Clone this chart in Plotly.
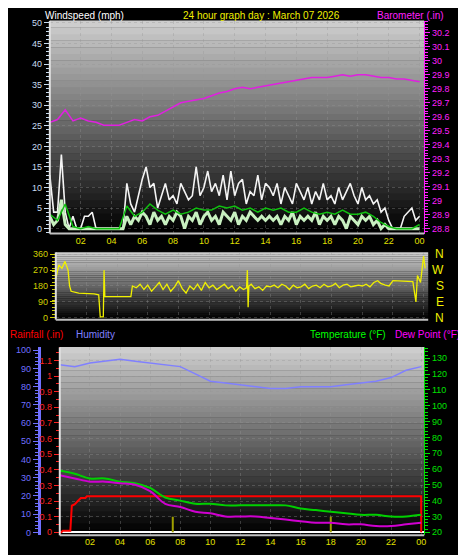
import numpy as np
import plotly.graph_objects as go

W, H = 466, 555

# ---- wind (mph) ----
gust_t = np.arange(0, 24.01, 0.25)
gust = [13, 4, 4, 18, 4, 0, 3, 0, 0, 3, 3, 4, 0, 0, 0, 0, 0, 0, 0, 0,
        11, 6, 4, 8, 12, 15, 10, 11, 5, 8, 11, 7, 8, 6, 11, 9, 7, 8, 15, 8,
        10, 14, 9, 11, 8, 13, 7, 14, 8, 11, 12, 6, 9, 8, 13, 7, 11, 10, 8, 11,
        6, 10, 8, 6, 11, 9, 7, 10, 6, 9, 7, 11, 7, 8, 6, 10, 7, 9, 11, 8,
        6, 10, 7, 8, 6, 7, 4, 5, 2, 0, 0, 0, 3, 4, 5, 2, 3]
speed_t = np.arange(0, 24.01, 0.25)
speed = [3, 1, 2, 7, 1, 0, 0, 0, 0, 0, 0, 0, 0, 0, 0, 0, 0, 0, 0, 0,
         3, 1, 3, 2, 4, 3, 1, 4, 2, 3, 1, 3, 2, 4, 3, 0, 3, 2, 4, 1,
         3, 4, 2, 3, 1, 4, 3, 2, 4, 1, 3, 2, 4, 3, 2, 3, 2, 3, 2, 3,
         1, 3, 2, 4, 1, 3, 2, 3, 2, 4, 1, 3, 2, 3, 1, 3, 2, 0, 3, 2,
         1, 3, 2, 3, 1, 2, 0, 1, 0, 0, 0, 0, 0, 0, 0, 0, 0]
avg_t = np.arange(0, 24.01, 0.5)
avg = [3.5, 2, 6, 0.5, 0, 0.5, 0, 0, 0, 0, 5.5, 3, 4, 6, 4.5, 3.5,
       4.5, 3.5, 4, 5, 4.5, 4.5, 5.5, 5, 5.5, 4.5, 5, 4, 5, 4.5, 5, 4,
       4, 5, 4, 3.5, 4, 3.5, 4.5, 3.5, 3.5, 4, 3, 1.5, 0.5, 0, 0, 0, 1]

# ---- barometer (in) ----
baro_t = np.arange(0, 24.01, 0.5)
baro = [29.56, 29.58, 29.65, 29.57, 29.59, 29.57, 29.56, 29.54, 29.54, 29.54,
        29.56, 29.58, 29.57, 29.60, 29.61, 29.64, 29.67, 29.70, 29.71, 29.72,
        29.73, 29.75, 29.77, 29.78, 29.80, 29.81, 29.80, 29.81, 29.82, 29.83,
        29.84, 29.85, 29.86, 29.87, 29.88, 29.88, 29.88, 29.89, 29.90, 29.89,
        29.90, 29.90, 29.89, 29.88, 29.88, 29.87, 29.87, 29.86, 29.85]

# ---- wind direction (deg) ----
dir_t = [0, 0.2, 0.4, 0.6, 0.8, 0.9, 1.0, 1.5, 2.5, 2.8, 2.9, 3.1, 3.15, 3.2, 4.5, 4.9,
         5.0, 5.25, 5.5, 5.75, 6.0, 6.25, 6.5, 6.75, 7.0, 7.25, 7.5, 7.75, 8.0, 8.25,
         8.5, 8.75, 9.0, 9.25, 9.5, 9.75, 10.0, 10.25, 10.5, 10.75, 11.0, 11.25, 11.5,
         11.75, 12.0, 12.25, 12.45, 12.5, 12.55, 12.6, 12.75, 13.0, 13.25, 13.5, 13.75,
         14.0, 14.25, 14.5, 14.75, 15.0, 15.25, 15.5, 15.75, 16.0, 16.25, 16.5, 16.75,
         17.0, 17.25, 17.5, 17.75, 18.0, 18.25, 18.5, 18.75, 19.0, 19.25, 19.5, 19.75,
         20.0, 20.25, 20.5, 20.75, 21.0, 21.2, 21.5, 21.75, 22.0, 23.0, 23.3, 23.5,
         23.6, 23.8, 23.9, 24.0, 24.1]
dir_v = [220, 300, 280, 320, 270, 180, 150, 140, 135, 130, 5, 5, 270, 120, 120, 120,
         180, 170, 190, 160, 185, 150, 175, 200, 160, 190, 150, 175, 210, 165,
         140, 180, 160, 190, 155, 200, 170, 185, 160, 175, 190, 165, 180,
         150, 175, 160, 170, 270, 60, 180, 190, 165, 175, 155, 180,
         175, 185, 170, 190, 180, 160, 185, 170, 175, 190, 165, 180,
         185, 170, 190, 175, 180, 195, 170, 185, 190, 175, 180, 185,
         180, 190, 175, 200, 210, 195, 185, 180, 210, 205, 205, 90,
         240, 200, 270, 350, 280]

# ---- rainfall / humidity / temperature ----
rain_t = [0, 0.1, 0.2, 0.7, 0.8, 1.0, 1.2, 1.4, 1.7, 1.8, 24.0, 24.0]
rain = [0, 0, 0.01, 0.01, 0.17, 0.18, 0.2, 0.22, 0.22, 0.23, 0.23, 0.0]
rate_t = [7.5, 18.0]
rate = [0.1, 0.1]
hour_t = np.arange(0, 25, 1)
humidity = [92, 91, 93, 94, 95, 94, 93, 92, 91, 87, 83, 82, 81, 80, 79, 79, 80, 80, 80,
            81, 82, 83, 85, 89, 91]
temperature = [59, 57, 54, 54, 52, 51, 48, 42, 40, 38, 38, 37, 37, 37, 37, 37, 35, 34, 33,
               32, 31, 31, 30, 30, 31]
dewpoint = [56, 54, 52, 52, 51, 50, 46, 38, 36, 33, 32, 30, 30, 30, 29, 28, 27, 26, 26,
            25, 25, 24, 24, 25, 26]

x_ticks = [2, 4, 6, 8, 10, 12, 14, 16, 18, 20, 22, 24]
x_labels = ["02", "04", "06", "08", "10", "12", "14", "16", "18", "20", "22", "00"]
rain_ticks = [0, 0.1, 0.2, 0.3, 0.4, 0.5, 0.6, 0.7, 0.8, 0.9, 1, 1.1]


def px(a, b):
    return [a / W, b / W]


def py(top, bot):
    return [1 - bot / H, 1 - top / H]


fig = go.Figure()
FONT = "Liberation Sans"

fig.add_trace(go.Scatter(x=gust_t, y=gust, mode="lines", line=dict(color="#f4f4f4", width=1.6),
                         xaxis="x", yaxis="y"))
fig.add_trace(go.Scatter(x=speed_t, y=speed, mode="lines", line=dict(color="#c8f0c0", width=3),
                         xaxis="x", yaxis="y"))
fig.add_trace(go.Scatter(x=avg_t, y=avg, mode="lines", line=dict(color="#10c010", width=1.5),
                         xaxis="x", yaxis="y"))
fig.add_trace(go.Scatter(x=baro_t, y=baro, mode="lines", line=dict(color="#e020e0", width=1.5),
                         xaxis="x", yaxis="y2"))
fig.add_trace(go.Scatter(x=dir_t, y=dir_v, mode="lines", line=dict(color="#f0f000", width=1.3),
                         xaxis="x2", yaxis="y3"))
fig.add_trace(go.Scatter(x=hour_t, y=humidity, mode="lines", line=dict(color="#8080ff", width=1.5),
                         xaxis="x3", yaxis="y5"))
fig.add_trace(go.Scatter(x=hour_t, y=temperature, mode="lines", line=dict(color="#00d000", width=2, shape="spline"),
                         xaxis="x3", yaxis="y6"))
fig.add_trace(go.Scatter(x=hour_t, y=dewpoint, mode="lines", line=dict(color="#d000d0", width=2, shape="spline"),
                         xaxis="x3", yaxis="y6"))
fig.add_trace(go.Bar(x=rate_t, y=rate, width=0.08, marker=dict(color="#a0a000", line_width=0),
                     xaxis="x3", yaxis="y4"))
fig.add_trace(go.Scatter(x=rain_t, y=rain, mode="lines", line=dict(color="#ff0000", width=2),
                         xaxis="x3", yaxis="y4"))

# gradient backgrounds (dark at bottom, light grey at top)
shapes = []
panels = [("x", "y", 205), ("x2", "y3", 205), ("x3", "y4", 205)]
for xr, yr, top in panels:
    n = 32
    for i in range(n):
        c = int(top * i / (n - 1))
        shapes.append(dict(type="rect", xref=xr + " domain", yref=yr + " domain", x0=0, x1=1,
                           y0=i / n, y1=(i + 1.05) / n, fillcolor=f"rgb({c},{c},{c})",
                           line=dict(width=0, color=f"rgb({c},{c},{c})"), layer="below"))
    shapes.append(dict(type="line", xref=xr + " domain", yref=yr + " domain", x0=0, x1=0, y0=0, y1=1,
                       line=dict(color="#e0e0e0", width=2)))
    shapes.append(dict(type="line", xref=xr + " domain", yref=yr + " domain", x0=0, x1=1, y0=0, y1=0,
                       line=dict(color="#c0c0c0", width=2)))

grid = dict(showgrid=True, gridcolor="rgba(150,150,150,0.35)", griddash="dot", gridwidth=1, zeroline=False)
tickf = dict(family=FONT, size=9)


def xax(dom, anchor, rng, labels=True):
    return dict(domain=dom, anchor=anchor, range=rng, tickvals=x_ticks, ticktext=x_labels,
                tickfont=dict(tickf, color="#e0e000"), ticks="", showline=False,
                showticklabels=labels, **grid)


def yax(rng, color, **kw):
    d = dict(range=rng, tickfont=dict(tickf, color=color), ticks="outside", ticklen=5,
             tickcolor=color, showline=True, linecolor=color,
             minor=dict(ticks="outside", ticklen=3, tickcolor=color, nticks=5, showgrid=False))
    d.update(kw)
    return d


fig.update_layout(
    width=W, height=H, margin=dict(l=0, r=0, t=0, b=0),
    paper_bgcolor="black", plot_bgcolor="black", showlegend=False, shapes=shapes,
    font=dict(family=FONT),
    xaxis=xax(px(42, 418), "y", [0, 24.3]),
    yaxis=yax([-1.2, 50.5], "#c8dcf0", domain=py(10, 225), dtick=5, showline=False, **grid),
    yaxis2=yax([28.765, 30.285], "#ff20ff", overlaying="y", side="right", anchor="x", dtick=0.1,
               showgrid=False),
    xaxis2=xax(px(48, 422), "y3", [0, 24.3], labels=False),
    yaxis3=yax([-11, 371], "#d0d000", domain=py(244, 312), anchor="x2", tickvals=[0, 90, 180, 270, 360],
               showline=False, **grid),
    xaxis3=xax(px(52, 418), "y4", [0, 24.2]),
    yaxis4=yax([-0.019, 1.184], "#ff2020", domain=py(340, 530), anchor="x3", tickvals=rain_ticks, **grid),
    yaxis5=yax([-1.6, 101.6], "#7070ff", overlaying="y4", anchor="free", position=31 / W, dtick=10,
               linewidth=3, showgrid=False),
    yaxis6=yax([18.1, 136.9], "#00e000", overlaying="y4", side="right", anchor="x3", dtick=10,
               showgrid=False),
)

ann = [
    ("Windspeed (mph)", 35, 5, "left", "white"),
    ("24 hour graph day : March 07 2026", 255, 5, "center", "#f0f000"),
    ("Barometer (.in)", 440, 5, "right", "#ff20ff"),
    ("Rainfall (.in)", 0, 327, "left", "#ff0000"),
    ("Humidity", 66, 327, "left", "#8080ff"),
    ("Temperature (°F)", 382, 327, "right", "#00ff00"),
    ("Dew Point (°F)", 456, 327, "right", "#ff00ff"),
]
for text, x, y, al, col in ann:
    fig.add_annotation(text=text, x=x / W, y=1 - y / H, xref="paper", yref="paper", showarrow=False,
                       xanchor=al, yanchor="middle", font=dict(family=FONT, size=10, color=col))
for lab, y in zip(["N", "W", "S", "E", "N"], [246, 262, 278, 294, 310]):
    fig.add_annotation(text=lab, x=440 / W, y=1 - y / H, xref="paper", yref="paper", showarrow=False,
                       font=dict(family=FONT, size=12, color="#f0f000"))

fig.write_html("out.html")
